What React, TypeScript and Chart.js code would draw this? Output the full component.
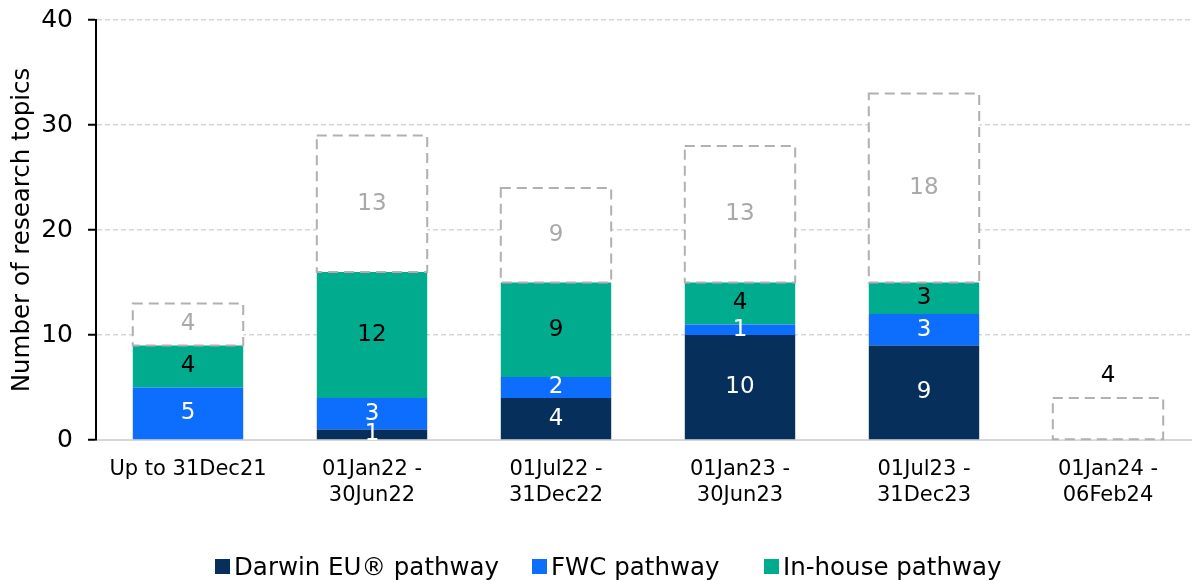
import React, { useEffect, useRef } from "react";
import { Chart, registerables } from "chart.js";

Chart.register(...registerables);

// Reporting periods (x-axis categories, split over two lines)
const periods: string[][] = [
  ["Up to 31Dec21"],
  ["01Jan22 -", "30Jun22"],
  ["01Jul22 -", "31Dec22"],
  ["01Jan23 -", "30Jun23"],
  ["01Jul23 -", "31Dec23"],
  ["01Jan24 -", "06Feb24"],
];

// Research topics per pathway
const darwinEU: number[] = [0, 1, 4, 10, 9, 0];
const fwc: number[] = [5, 3, 2, 1, 3, 0];
const inHouse: number[] = [4, 12, 9, 4, 3, 0];
// Topics still without an assigned pathway (dashed outline)
const pending: number[] = [4, 13, 9, 13, 18, 4];

const yTicks: number[] = [0, 10, 20, 30, 40];

const COLORS = {
  darwin: "#06305b",
  fwc: "#0d6efd",
  inHouse: "#00ab8e",
  pendingBorder: "#b3afaf",
  pendingText: "#a9a9a9",
  grid: "#d6d6d6",
};

const FONT = '"DejaVu Sans", Verdana, sans-serif';

const legendItems = [
  { label: "Darwin EU® pathway", color: COLORS.darwin, left: 215 },
  { label: "FWC pathway", color: COLORS.fwc, left: 532 },
  { label: "In-house pathway", color: COLORS.inHouse, left: 764 },
];

// Writes each segment's value and outlines the pending segments with a dashed box
const segmentLabels = {
  id: "segmentLabels",
  afterDatasetsDraw(chart: any) {
    const ctx: CanvasRenderingContext2D = chart.ctx;
    const textColors = ["#ffffff", "#ffffff", "#000000"];
    ctx.save();
    ctx.font = `23px ${FONT}`;
    ctx.textAlign = "center";
    ctx.textBaseline = "middle";
    chart.data.datasets.forEach((ds: any, di: number) => {
      const meta = chart.getDatasetMeta(di);
      meta.data.forEach((bar: any, i: number) => {
        const v = ds.data[i];
        if (!v) return;
        const { x, y, base, width } = bar.getProps(["x", "y", "base", "width"], true);
        if (di === 3) {
          ctx.save();
          ctx.setLineDash([10, 6]);
          ctx.lineWidth = 2;
          ctx.strokeStyle = COLORS.pendingBorder;
          ctx.strokeRect(x - width / 2, y, width, base - y);
          ctx.restore();
          const below = darwinEU[i] + fwc[i] + inHouse[i];
          if (below === 0) {
            ctx.fillStyle = "#000000";
            ctx.fillText(String(v), x, y - 22);
          } else {
            ctx.fillStyle = COLORS.pendingText;
            ctx.fillText(String(v), x, (y + base) / 2);
          }
        } else {
          ctx.fillStyle = textColors[di];
          ctx.fillText(String(v), x, (y + base) / 2);
        }
      });
    });
    ctx.restore();
  },
};

export default function App() {
  const canvasRef = useRef<HTMLCanvasElement | null>(null);

  useEffect(() => {
    if (!canvasRef.current) return;
    const chart = new Chart(canvasRef.current, {
      type: "bar",
      data: {
        labels: periods,
        datasets: [
          { label: "Darwin EU® pathway", data: darwinEU, backgroundColor: COLORS.darwin, borderWidth: 0 },
          { label: "FWC pathway", data: fwc, backgroundColor: COLORS.fwc, borderWidth: 0 },
          { label: "In-house pathway", data: inHouse, backgroundColor: COLORS.inHouse, borderWidth: 0 },
          { label: "Pending", data: pending, backgroundColor: "#ffffff", borderWidth: 0 },
        ],
      },
      options: {
        responsive: false,
        animation: false,
        layout: { padding: { top: 20, left: 0, right: 0, bottom: 0 } },
        datasets: { bar: { categoryPercentage: 1, barPercentage: 0.6 } },
        plugins: {
          legend: { display: false },
          tooltip: { enabled: false },
        },
        scales: {
          x: {
            stacked: true,
            grid: { display: false, drawTicks: false },
            border: { display: true, color: COLORS.grid, width: 2 },
            ticks: {
              color: "#000000",
              padding: 16,
              font: { family: FONT, size: 21, lineHeight: 1.25 },
              maxRotation: 0,
              autoSkip: false,
            },
            afterFit: (scale: any) => {
              scale.height = 141;
            },
          },
          y: {
            stacked: true,
            min: 0,
            max: 40,
            afterBuildTicks: (scale: any) => {
              scale.ticks = yTicks.map((v) => ({ value: v }));
            },
            grid: {
              color: COLORS.grid,
              lineWidth: 1.5,
              drawTicks: true,
              tickLength: 8,
              tickColor: "#000000",
              tickWidth: 2,
            },
            border: { display: true, color: "#000000", width: 2, dash: [5, 3] },
            ticks: {
              color: "#000000",
              padding: 15,
              font: { family: FONT, size: 25 },
            },
            title: {
              display: true,
              text: "Number of research topics",
              color: "#000000",
              font: { family: FONT, size: 24.5 },
              padding: { top: 8, bottom: 0 },
            },
            afterFit: (scale: any) => {
              scale.width = 96;
              scale.paddingTop = 0;
              scale.paddingBottom = 0;
            },
          },
        },
      },
      plugins: [segmentLabels],
    } as any);
    return () => chart.destroy();
  }, []);

  return (
    <div style={{ position: "fixed", left: 0, top: 0, width: 1200, height: 581, background: "#ffffff" }}>
      <canvas ref={canvasRef} width={1200} height={581} style={{ display: "block" }} />
      {legendItems.map((item) => (
        <div
          key={item.label}
          style={{
            position: "absolute",
            left: item.left,
            top: 552,
            height: 28,
            display: "flex",
            alignItems: "center",
            fontFamily: FONT,
            fontSize: 24.5,
            color: "#000000",
            whiteSpace: "nowrap",
          }}
        >
          <span style={{ display: "inline-block", width: 15, height: 15, background: item.color, marginRight: 4 }} />
          <span>{item.label}</span>
        </div>
      ))}
    </div>
  );
}
